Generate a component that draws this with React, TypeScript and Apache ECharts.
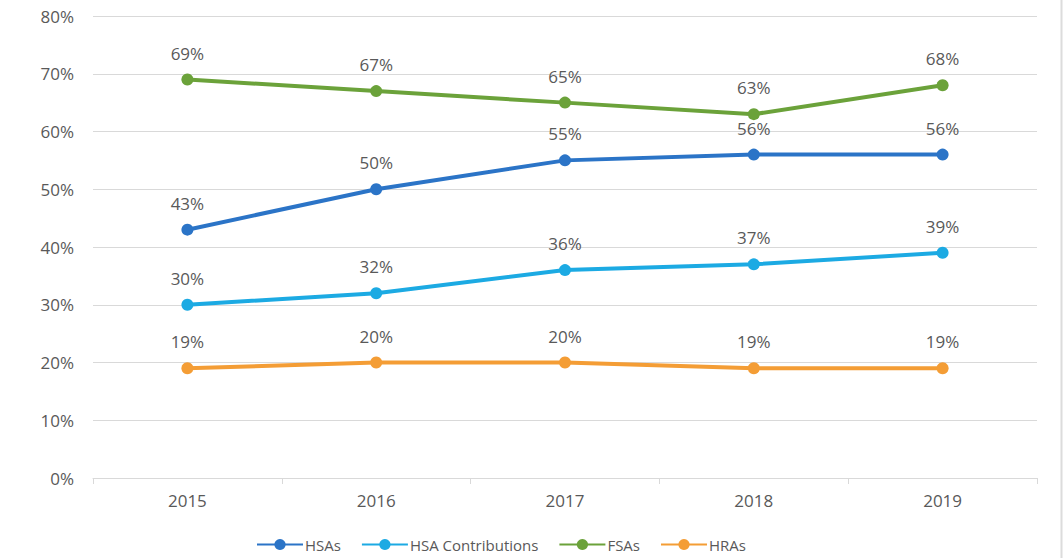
import React, { useEffect, useRef } from "react";
import * as echarts from "echarts";

const years = ["2015", "2016", "2017", "2018", "2019"];
const hsas = [43, 50, 55, 56, 56];
const hsaContributions = [30, 32, 36, 37, 39];
const fsas = [69, 67, 65, 63, 68];
const hras = [19, 20, 20, 19, 19];

const seriesDefs = [
  { name: "HSAs", data: hsas, color: "#2B74C7" },
  { name: "HSA Contributions", data: hsaContributions, color: "#1CAAE3" },
  { name: "FSAs", data: fsas, color: "#6BA23A" },
  { name: "HRAs", data: hras, color: "#F49D35" },
];

const FONT = "'Open Sans', 'Noto Sans', sans-serif";

export default function App() {
  const ref = useRef<HTMLDivElement>(null);
  useEffect(() => {
    if (!ref.current) return;
    const chart = echarts.init(ref.current, undefined, { renderer: "svg" });
    chart.setOption({
      animation: false,
      backgroundColor: "#ffffff",
      textStyle: { fontFamily: FONT },
      grid: { left: 93, right: 26, top: 16, bottom: 80 },
      xAxis: {
        type: "category",
        data: years,
        boundaryGap: true,
        axisLine: { show: true, lineStyle: { color: "#d9d9d9", width: 1 } },
        axisTick: { show: true, length: 6, lineStyle: { color: "#d9d9d9" } },
        axisLabel: { color: "#595959", fontSize: 17, margin: 14, fontFamily: FONT },
        splitLine: { show: false },
      },
      yAxis: {
        type: "value",
        min: 0,
        max: 80,
        interval: 10,
        axisLine: { show: false },
        axisTick: { show: false },
        axisLabel: {
          color: "#595959",
          fontSize: 17,
          margin: 19,
          fontFamily: FONT,
          formatter: (v: number) => v + "%",
        },
        splitLine: { lineStyle: { color: "#d9d9d9", width: 1 } },
      },
      legend: {
        bottom: 1,
        left: 251,
        itemWidth: 46,
        itemHeight: 14,
        itemGap: 20,
        textStyle: { color: "#595959", fontSize: 15, fontFamily: FONT, padding: [0, 0, 0, -3] },
        data: seriesDefs.map((s) => s.name),
      },
      series: seriesDefs.map((s) => ({
        name: s.name,
        type: "line",
        data: s.data,
        color: s.color,
        symbol: "circle",
        symbolSize: 12,
        lineStyle: { width: 4, color: s.color },
        itemStyle: { color: s.color },
        label: {
          show: true,
          position: "top",
          distance: 12,
          color: "#595959",
          fontSize: 17,
          fontFamily: FONT,
          formatter: (p: any) => p.value + "%",
        },
      })),
      graphic: [
        {
          type: "line",
          shape: { x1: 1061.5, y1: 0, x2: 1061.5, y2: 558 },
          style: { stroke: "#dcdcdc", lineWidth: 2 },
        },
      ],
    });
    return () => chart.dispose();
  }, []);
  return (
    <div
      ref={ref}
      style={{ position: "fixed", left: 0, top: 0, width: 1063, height: 558 }}
    />
  );
}
